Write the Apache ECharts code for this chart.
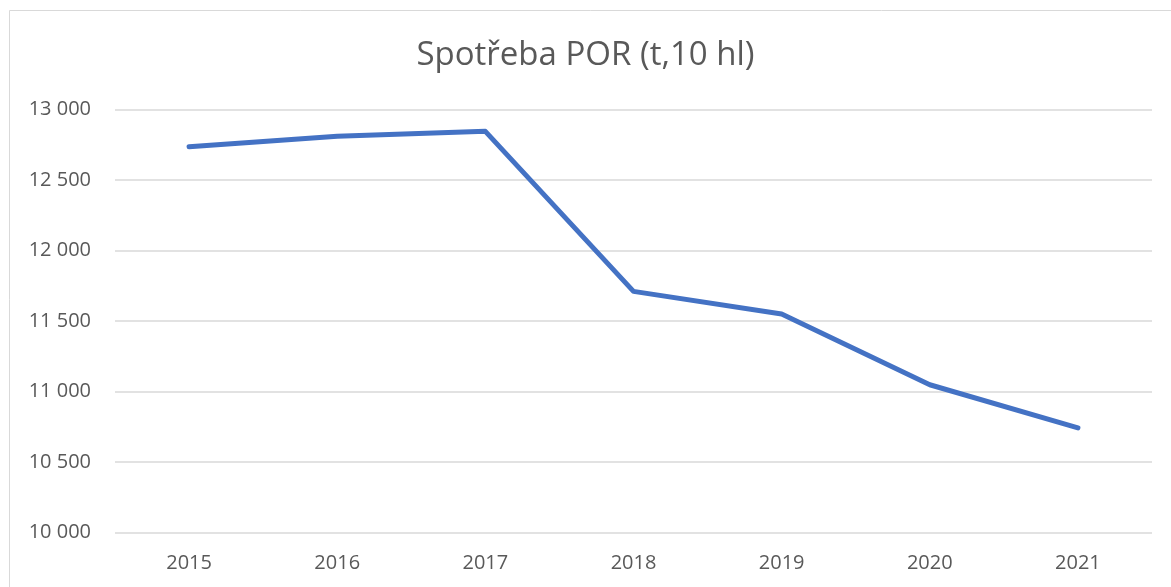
<!DOCTYPE html>
<html>
<head>
<meta charset="utf-8">
<script src="https://cdn.jsdelivr.net/npm/echarts@6/dist/echarts.min.js"></script>
<style>
  html, body { margin: 0; padding: 0; background: #fff; }
  #chart { width: 1171px; height: 587px; }
</style>
</head>
<body>
<div id="chart"></div>
<script>
// data
const years = ['2015', '2016', '2017', '2018', '2019', '2020', '2021'];
const spotreba = [12735, 12810, 12845, 11710, 11550, 11048, 10742];

const chart = echarts.init(document.getElementById('chart'));

const option = {
  animation: false,
  backgroundColor: '#ffffff',
  graphic: [
    {
      type: 'rect',
      shape: { x: 9.5, y: 10.5, width: 1170, height: 600 },
      style: { fill: 'none', stroke: '#d9d9d9', lineWidth: 1 }
    }
  ],
  title: {
    text: 'Spotřeba POR (t,10 hl)',
    left: 'center',
    top: 34,
    textStyle: {
      fontFamily: 'Open Sans',
      fontWeight: 'normal',
      fontSize: 33,
      color: '#595959'
    }
  },
  grid: {
    left: 115,
    right: 19,
    top: 109.5,
    bottom: 54.5
  },
  xAxis: {
    type: 'category',
    data: years,
    boundaryGap: true,
    axisLine: { show: false },
    axisTick: { show: false },
    axisLabel: {
      margin: 21,
      fontFamily: 'Open Sans',
      fontSize: 20,
      color: '#595959'
    }
  },
  yAxis: {
    type: 'value',
    min: 10000,
    max: 13000,
    interval: 500,
    axisLine: { show: false },
    axisTick: { show: false },
    splitLine: { lineStyle: { color: '#d9d9d9', width: 1.5 } },
    axisLabel: {
      margin: 24,
      fontFamily: 'Open Sans',
      fontSize: 20,
      color: '#595959',
      formatter: v => String(v).replace(/\B(?=(\d{3})+(?!\d))/g, ' ')
    }
  },
  series: [
    {
      type: 'line',
      data: spotreba,
      symbol: 'none',
      lineStyle: { color: '#4472c4', width: 5, cap: 'round', join: 'round' }
    }
  ]
};

chart.setOption(option);
</script>
</body>
</html>
